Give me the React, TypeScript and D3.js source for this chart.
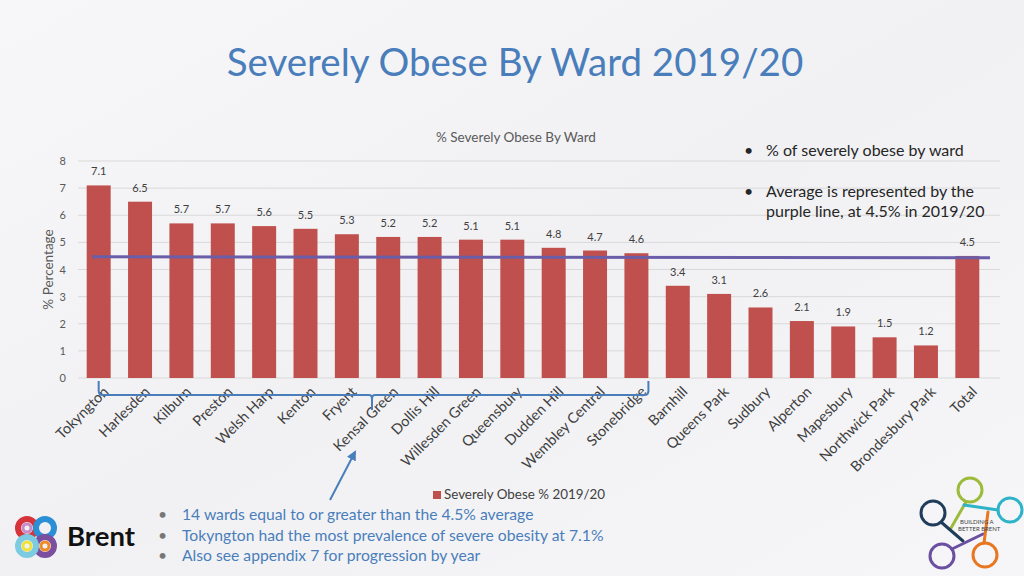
import React from "react";
import * as d3 from "d3";

const wards = [
  "Tokyngton", "Harlesden", "Kilburn", "Preston", "Welsh Harp", "Kenton", "Fryent",
  "Kensal Green", "Dollis Hill", "Willesden Green", "Queensbury", "Dudden Hill",
  "Wembley Central", "Stonebridge", "Barnhill", "Queens Park", "Sudbury", "Alperton",
  "Mapesbury", "Northwick Park", "Brondesbury Park", "Total",
];
const obesePct = [
  7.1, 6.5, 5.7, 5.7, 5.6, 5.5, 5.3, 5.2, 5.2, 5.1, 5.1, 4.8, 4.7, 4.6,
  3.4, 3.1, 2.6, 2.1, 1.9, 1.5, 1.2, 4.5,
];
// average line (slightly sloped in the original drawing)
const averageLine = [4.47, 4.43];
const yTicks = [0, 1, 2, 3, 4, 5, 6, 7, 8];

const FONT = "Lato, 'Open Sans', sans-serif";
const BAR = "#c0504d";
const BLUE = "#4a7ebb";

const App: React.FC = () => {
  const width = 1024;
  const height = 576;
  const plot = { left: 78, right: 988, top: 161, bottom: 378 };

  const x = d3.scaleBand<string>().domain(wards).range([plot.left, plot.right]).paddingInner(0.42).paddingOuter(0.21);
  const y = d3.scaleLinear().domain([0, 8]).range([plot.bottom, plot.top]);

  const cx = (w: string) => (x(w) || 0) + x.bandwidth() / 2;
  const avgX = d3.scaleLinear().domain([0, 1]).range([92, 990]);
  const avgPath = d3.line<number>().x((_, i) => avgX(i)).y((d) => y(d))(averageLine) || "";

  // bracket under the first 14 wards
  const bx0 = cx(wards[0]);
  const bx1 = cx(wards[13]) + 12;
  const bMid = 372;
  const bTop = 381;
  const bY = 395;
  const bracket = `M${bx0},${bTop} L${bx0},${bY - 4} Q${bx0},${bY} ${bx0 + 4},${bY} L${bMid - 3},${bY} Q${bMid},${bY} ${bMid},${bY + 4} L${bMid},${410} L${bMid},${bY + 4} Q${bMid},${bY} ${bMid + 3},${bY} L${bx1 - 4},${bY} Q${bx1},${bY} ${bx1},${bY - 4} L${bx1},${bTop}`;

  return (
    <svg width={width} height={height} style={{ position: "absolute", left: 0, top: 0 }} fontFamily={FONT}>
      <defs>
        <linearGradient id="bg" x1="0" y1="0" x2="1" y2="1">
          <stop offset="0" stopColor="#f7f7f9" />
          <stop offset="0.5" stopColor="#f1f1f4" />
          <stop offset="1" stopColor="#f6f6f8" />
        </linearGradient>
        <marker id="arrow" viewBox="0 0 10 10" refX="8" refY="5" markerWidth="5" markerHeight="5" orient="auto">
          <path d="M0,0 L10,5 L0,10 z" fill={BLUE} />
        </marker>
      </defs>
      <rect width={width} height={height} fill="url(#bg)" />

      <text x={515} y={76} textAnchor="middle" fontSize={38.5} fill={BLUE}>
        Severely Obese By Ward 2019/20
      </text>

      <text x={516} y={142} textAnchor="middle" fontSize={13.5} fill="#595959">
        % Severely Obese By Ward
      </text>

      {yTicks.map((t) => (
        <g key={t}>
          <line x1={plot.left} x2={1000} y1={y(t)} y2={y(t)} stroke="#d9d9d9" strokeWidth={1} />
          <text x={66} y={y(t) + 4} textAnchor="end" fontSize={11} fill="#595959">{t}</text>
        </g>
      ))}

      <text transform={`translate(53,${y(4)}) rotate(-90)`} textAnchor="middle" fontSize={13.5} fill="#595959">
        % Percentage
      </text>

      {wards.map((w, i) => (
        <g key={w}>
          <rect x={x(w)} y={y(obesePct[i])} width={x.bandwidth()} height={y(0) - y(obesePct[i])} fill={BAR} />
          <text x={cx(w)} y={y(obesePct[i]) - 10} textAnchor="middle" fontSize={11} fill="#404040">
            {obesePct[i].toFixed(1)}
          </text>
          <text
            transform={`translate(${cx(w) + 3},${385}) rotate(-45)`}
            textAnchor="end"
            dy="0.75em"
            fontSize={14.5}
            fill="#404040"
          >
            {w}
          </text>
        </g>
      ))}

      <path d={avgPath} stroke="#6a5ea8" strokeWidth={3} fill="none" />

      <path d={bracket} stroke={BLUE} strokeWidth={2} fill="none" />
      <line x1={330} y1={500} x2={355} y2={452} stroke={BLUE} strokeWidth={2} markerEnd="url(#arrow)" />

      <rect x={433} y={491} width={8} height={8} fill={BAR} />
      <text x={444} y={499} fontSize={13.4} fill="#404040">Severely Obese % 2019/20</text>

      <g fontSize={16} fill="#262626">
        <text x={744} y={156}>•</text>
        <text x={766} y={156}>% of severely obese by ward</text>
        <text x={744} y={197}>•</text>
        <text x={766} y={197}>Average is represented by the</text>
        <text x={766} y={217}>purple line, at 4.5% in 2019/20</text>
      </g>

      <g fontSize={15.7} fill={BLUE}>
        {[
          "14 wards equal to or greater than the 4.5% average",
          "Tokyngton had the most prevalence of severe obesity at 7.1%",
          "Also see appendix 7 for progression by year",
        ].map((s, i) => (
          <g key={s}>
            <text x={158} y={520 + i * 20.5} fill="#777">•</text>
            <text x={182} y={520 + i * 20.5}>{s}</text>
          </g>
        ))}
      </g>

      {/* Brent logo */}
      <g fill="none" strokeWidth={6}>
        <circle cx={27} cy={528} r={9} stroke="#d6333a" />
        <circle cx={45} cy={528} r={9} stroke="#2a8fd4" />
        <circle cx={45} cy={546} r={9} stroke="#7a4fa0" />
        <circle cx={27} cy={546} r={9} stroke="#7ccbe0" />
        <circle cx={27} cy={528} r={4} stroke="#c78ac6" strokeWidth={3} />
        <circle cx={45} cy={546} r={4} stroke="#f08a24" strokeWidth={3} />
        <circle cx={27} cy={546} r={4} stroke="#f1e23a" strokeWidth={3} />
      </g>
      <text x={67} y={546} fontSize={27.5} fontWeight="bold" fill="#111">Brent</text>

      {/* Building a better Brent logo */}
      <g fill="none" strokeWidth={3} strokeLinecap="round">
        <circle cx={970} cy={490} r={12} stroke="#9dbb3a" />
        <line x1={966} y1={502} x2={951} y2={528} stroke="#9dbb3a" />
        <circle cx={1010} cy={510} r={12} stroke="#2fb3c9" />
        <line x1={998} y1={510} x2={964} y2={505} stroke="#2fb3c9" />
        <circle cx={933} cy={513} r={12} stroke="#1f3d5a" />
        <line x1={941} y1={522} x2={963} y2={541} stroke="#1f3d5a" />
        <circle cx={942} cy={556} r={12} stroke="#6b4fa0" />
        <line x1={952} y1={549} x2={983} y2={534} stroke="#6b4fa0" />
        <circle cx={985} cy={555} r={12} stroke="#e87722" />
        <line x1={984} y1={543} x2={988} y2={512} stroke="#e87722" />
      </g>
      <text x={960} y={524} fontSize={6} fill="#444">BUILDING A</text>
      <text x={958} y={531} fontSize={6} fill="#444">BETTER BRENT</text>
    </svg>
  );
};

export default App;
